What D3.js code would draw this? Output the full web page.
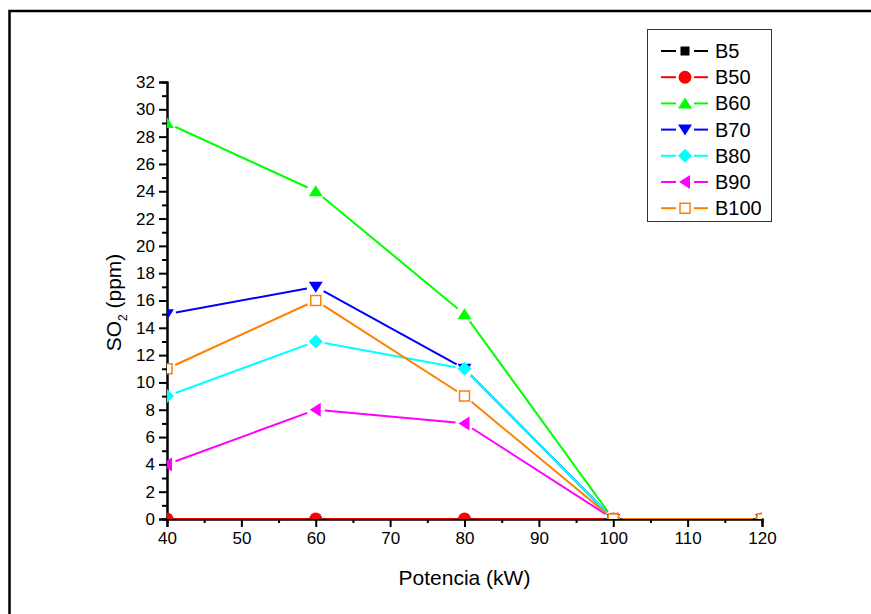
<!DOCTYPE html>
<html>
<head>
<meta charset="utf-8">
<script src="https://cdn.jsdelivr.net/npm/d3@7"></script>
<style>
  body { margin: 0; background: #fff; }
  text { font-family: "Liberation Sans", Arial, sans-serif; }
</style>
</head>
<body>
<div id="drawing_region"></div>
<script>
// Power levels (kW)
const potencia = [40, 60, 80, 100, 120];

// SO2 (ppm) per blend
const so2_B5   = [0, 0, 0, 0, 0];
const so2_B50  = [0, 0, 0, 0, 0];
const so2_B60  = [29, 24, 15, 0, 0];
const so2_B70  = [15, 17, 11, 0, 0];
const so2_B80  = [9, 13, 11, 0, 0];
const so2_B90  = [4, 8, 7, 0, 0];
const so2_B100 = [11, 16, 9, 0, 0];

const xticks = [40, 50, 60, 70, 80, 90, 100, 110, 120];
const yticks = d3.range(0, 33, 2);

const series = [
    { name: 'B5',   values: so2_B5,   color: '#000000', symbol: 'square' },
    { name: 'B50',  values: so2_B50,  color: '#ff0000', symbol: 'circle' },
    { name: 'B60',  values: so2_B60,  color: '#00ff00', symbol: 'up' },
    { name: 'B70',  values: so2_B70,  color: '#0000ff', symbol: 'down' },
    { name: 'B80',  values: so2_B80,  color: '#00ffff', symbol: 'diamond' },
    { name: 'B90',  values: so2_B90,  color: '#ff00ff', symbol: 'left' },
    { name: 'B100', values: so2_B100, color: '#ff8000', symbol: 'open' }
];

const width = 871, height = 614;
const margin = { top: 82, right: 109, bottom: 95, left: 167 };
const inner_width = width - margin.left - margin.right;
const inner_height = height - margin.top - margin.bottom;

const svg = d3.select('#drawing_region')
    .append('svg')
    .attr('width', width)
    .attr('height', height);

// outer frame
svg.append('rect')
    .attr('x', 9.5).attr('y', 11)
    .attr('width', 900).attr('height', 700)
    .attr('fill', 'none')
    .attr('stroke', 'black')
    .attr('stroke-width', 2.5);

const chart = svg.append('g')
    .attr('transform', `translate(${margin.left}, ${margin.top})`);

const xscale = d3.scaleLinear().domain([40, 120]).range([0, inner_width]);
const yscale = d3.scaleLinear().domain([0, 32]).range([inner_height, 0]);

svg.append('defs').append('clipPath').attr('id', 'plotclip')
    .append('rect')
    .attr('x', 0).attr('y', 0)
    .attr('width', inner_width).attr('height', inner_height);

// marker path centred on 0,0
function marker(sym) {
    switch (sym) {
        case 'square':  return 'M-4.5,-4.5H4.5V4.5H-4.5Z';
        case 'circle':  return d3.symbol(d3.symbolCircle, 130)();
        case 'up':      return 'M0,-6L7,5H-7Z';
        case 'down':    return 'M0,6L7,-5H-7Z';
        case 'diamond': return 'M0,-7L7,0L0,7L-7,0Z';
        case 'left':    return 'M-6,0L5,-7V7Z';
        case 'open':    return 'M-5,-5H5V5H-5Z';
    }
}

// axes
const xAxis = d3.axisBottom(xscale).tickValues(xticks).tickSize(8).tickPadding(5);
const xMinor = d3.axisBottom(xscale).tickValues(d3.range(45, 120, 10)).tickSize(4).tickFormat('');
const yAxis = d3.axisLeft(yscale).tickValues(yticks).tickSize(8).tickPadding(4);
const yMinor = d3.axisLeft(yscale).tickValues(d3.range(1, 32, 2)).tickSize(5).tickFormat('');

function styleAxis(g) {
    g.select('.domain').attr('stroke', 'black').attr('stroke-width', 2);
    g.selectAll('line').attr('stroke', 'black').attr('stroke-width', 2);
    g.selectAll('text').attr('font-size', 17).attr('fill', 'black')
        .style('font-family', '"Liberation Sans", Arial, sans-serif');
}

chart.append('g').attr('transform', `translate(0, ${inner_height})`).call(xMinor).call(styleAxis);
chart.append('g').attr('transform', `translate(0, ${inner_height})`).call(xAxis).call(styleAxis);
chart.append('g').call(yMinor).call(styleAxis);
chart.append('g').call(yAxis).call(styleAxis);

// lines and markers
const plot = chart.append('g').attr('clip-path', 'url(#plotclip)');
const gap = 9;

series.forEach(s => {
    const pts = potencia.map((p, i) => [xscale(p), yscale(s.values[i])]);
    const g = plot.append('g');
    for (let i = 0; i < pts.length - 1; i++) {
        const [x0, y0] = pts[i], [x1, y1] = pts[i + 1];
        const len = Math.hypot(x1 - x0, y1 - y0);
        const ux = (x1 - x0) / len, uy = (y1 - y0) / len;
        g.append('line')
            .attr('x1', x0 + ux * gap).attr('y1', y0 + uy * gap)
            .attr('x2', x1 - ux * gap).attr('y2', y1 - uy * gap)
            .attr('stroke', s.color)
            .attr('stroke-width', 2);
    }
    g.selectAll('path')
        .data(pts)
        .join('path')
        .attr('transform', d => `translate(${d[0]}, ${d[1]})`)
        .attr('d', marker(s.symbol))
        .attr('fill', s.symbol === 'open' ? 'white' : s.color)
        .attr('stroke', s.symbol === 'open' ? s.color : 'none')
        .attr('stroke-width', 1.5);
});

// axis titles
svg.append('text')
    .attr('x', margin.left + inner_width / 2)
    .attr('y', 585)
    .attr('text-anchor', 'middle')
    .attr('font-size', 21)
    .text('Potencia (kW)');

const ytitle = svg.append('text')
    .attr('transform', `translate(121, ${margin.top + inner_height / 2 + 2}) rotate(-90)`)
    .attr('text-anchor', 'middle')
    .attr('font-size', 21);
ytitle.append('tspan').text('SO');
ytitle.append('tspan').attr('font-size', 12).attr('dy', 6).text('2');
ytitle.append('tspan').attr('dy', -6).text(' (ppm)');

// legend
const legend = svg.append('g').attr('transform', 'translate(647, 29)');
legend.append('rect')
    .attr('x', 0.5).attr('y', 0.5)
    .attr('width', 124).attr('height', 192)
    .attr('fill', 'white')
    .attr('stroke', '#333')
    .attr('stroke-width', 1);

const items = legend.selectAll('g.item')
    .data(series)
    .join('g')
    .attr('class', 'item')
    .attr('transform', (d, i) => `translate(0, ${22 + i * 26.2})`);

items.append('line').attr('x1', 14).attr('x2', 29)
    .attr('stroke', d => d.color).attr('stroke-width', 2);
items.append('line').attr('x1', 47).attr('x2', 61)
    .attr('stroke', d => d.color).attr('stroke-width', 2);
items.append('path')
    .attr('transform', 'translate(38, 0)')
    .attr('d', d => marker(d.symbol))
    .attr('fill', d => d.symbol === 'open' ? 'white' : d.color)
    .attr('stroke', d => d.symbol === 'open' ? d.color : 'none')
    .attr('stroke-width', 1.5);
items.append('text')
    .attr('x', 68).attr('y', 7)
    .attr('font-size', 20)
    .text(d => d.name);
</script>
</body>
</html>
